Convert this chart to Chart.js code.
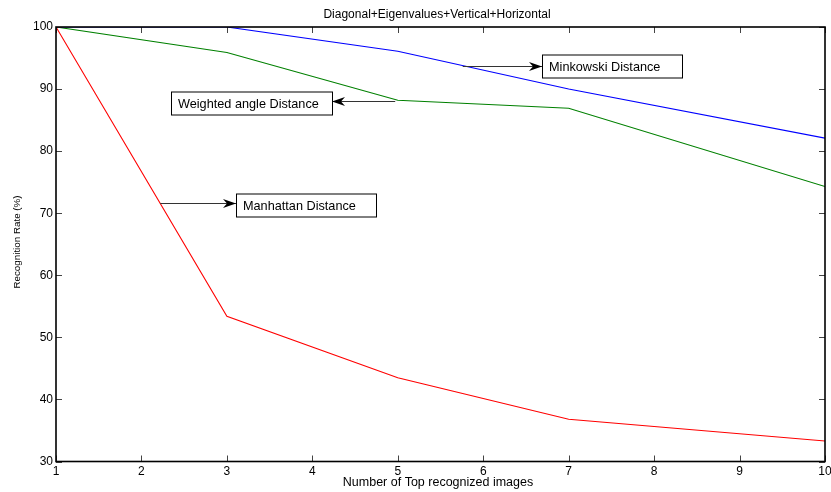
<!DOCTYPE html>
<html>
<head>
<meta charset="utf-8">
<script src="https://cdn.jsdelivr.net/npm/chart.js@4.4.1/dist/chart.umd.min.js"></script>
<style>
  html, body { margin: 0; padding: 0; background: #fff; }
  #wrap { width: 831px; height: 492px; }
</style>
</head>
<body>
<div id="wrap"><canvas id="chart" width="831" height="492"></canvas></div>
<script>
const xValues = [1, 3, 5, 7, 10];
const minkowski = [100, 100, 96.1, 90, 82.1];
const weightedAngle = [100, 95.9, 88.2, 86.9, 74.3];
const manhattan = [100, 53.4, 43.5, 36.8, 33.3];

const chartTitle = 'Diagonal+Eigenvalues+Vertical+Horizontal';
const xTitle = 'Number of Top recognized images';
const yTitle = 'Recognition Rate (%)';

// label, box left x, box centre y, arrow start x, arrow y (data units), box width px, arrow side
const notes = [
  ['Minkowski Distance', 6.69, 93.7, 5.76, 93.7, 140, 'right'],
  ['Weighted angle Distance', 2.346, 87.8, 4.97, 88.1, 161, 'left'],
  ['Manhattan Distance', 3.107, 71.3, 2.22, 71.6, 140, 'right']
];

const FONT = '"Liberation Sans", Arial, sans-serif';

function toPts(ys) {
  return ys.map((y, i) => ({ x: xValues[i], y: y }));
}

const framePlugin = {
  id: 'frame',
  afterDraw(chart) {
    const { ctx, chartArea: a, scales } = chart;
    const xs = scales.x, ys = scales.y;
    ctx.save();
    // inward ticks
    ctx.strokeStyle = '#444';
    ctx.lineWidth = 1;
    ctx.beginPath();
    for (let v = 1; v <= 10; v++) {
      const px = Math.round(xs.getPixelForValue(v)) + 0.5;
      ctx.moveTo(px, a.bottom); ctx.lineTo(px, a.bottom - 6);
      ctx.moveTo(px, a.top); ctx.lineTo(px, a.top + 6);
    }
    for (let v = 30; v <= 100; v += 10) {
      const py = Math.round(ys.getPixelForValue(v)) + 0.5;
      ctx.moveTo(a.left, py); ctx.lineTo(a.left + 6, py);
      ctx.moveTo(a.right, py); ctx.lineTo(a.right - 6, py);
    }
    ctx.stroke();
    ctx.strokeStyle = '#000';
    ctx.lineWidth = 1.6;
    ctx.strokeRect(a.left, a.top, a.right - a.left, a.bottom - a.top);

    // titles
    ctx.fillStyle = '#000';
    ctx.textAlign = 'center';
    ctx.textBaseline = 'middle';
    ctx.font = '12px ' + FONT;
    ctx.fillText(chartTitle, 437, 15);
    ctx.font = '12.5px ' + FONT;
    ctx.fillText(xTitle, 438, 483);
    ctx.save();
    ctx.translate(17, 242);
    ctx.rotate(-Math.PI / 2);
    ctx.font = '9.8px ' + FONT;
    ctx.fillText(yTitle, 0, 0);
    ctx.restore();

    // annotations
    ctx.font = '12.7px ' + FONT;
    notes.forEach(n => {
      const [label, bx, by, ax, ay, w, side] = n;
      const h = 23;
      const cy = Math.round(ys.getPixelForValue(by));
      const left = Math.round(xs.getPixelForValue(bx));
      const sx = xs.getPixelForValue(ax);
      const sy = Math.round(ys.getPixelForValue(ay)) + 0.5;
      const tipX = side === 'right' ? left : left + w;
      ctx.strokeStyle = '#333';
      ctx.lineWidth = 1.2;
      ctx.beginPath();
      ctx.moveTo(sx, sy);
      ctx.lineTo(tipX, sy);
      ctx.stroke();
      const dir = side === 'right' ? 1 : -1;
      ctx.fillStyle = '#000';
      ctx.beginPath();
      ctx.moveTo(tipX, sy);
      ctx.lineTo(tipX - dir * 13, sy - 4.5);
      ctx.lineTo(tipX - dir * 9, sy);
      ctx.lineTo(tipX - dir * 13, sy + 4.5);
      ctx.closePath();
      ctx.fill();
      ctx.fillStyle = '#fff';
      ctx.fillRect(left, cy - h / 2, w, h);
      ctx.strokeStyle = '#000';
      ctx.lineWidth = 1;
      ctx.strokeRect(left + 0.5, cy - h / 2 + 0.5, w, h);
      ctx.fillStyle = '#000';
      ctx.textAlign = 'left';
      ctx.fillText(label, left + 7, cy + 1);
    });
    ctx.restore();
  }
};

new Chart(document.getElementById('chart'), {
  type: 'line',
  data: {
    datasets: [
      { label: 'Minkowski Distance', data: toPts(minkowski), borderColor: '#0000ff' },
      { label: 'Weighted angle Distance', data: toPts(weightedAngle), borderColor: '#008000' },
      { label: 'Manhattan Distance', data: toPts(manhattan), borderColor: '#ff0000' }
    ]
  },
  options: {
    responsive: false,
    animation: false,
    events: [],
    layout: { padding: { left: 0, right: 6, top: 27, bottom: 0 } },
    elements: {
      line: { borderWidth: 1.1, tension: 0, fill: false },
      point: { radius: 0 }
    },
    plugins: { legend: { display: false }, tooltip: { enabled: false } },
    scales: {
      x: {
        type: 'linear', min: 1, max: 10,
        grid: { display: false, drawTicks: false },
        border: { display: false },
        ticks: { stepSize: 1, padding: 3, color: '#000', font: { family: FONT, size: 12 }, maxRotation: 0 },
        afterFit(s) { s.height = 30.5; s.paddingLeft = 0; s.paddingRight = 0; }
      },
      y: {
        min: 30, max: 100,
        grid: { display: false, drawTicks: false },
        border: { display: false },
        ticks: { stepSize: 10, padding: 3, color: '#000', font: { family: FONT, size: 12 } },
        afterFit(s) { s.width = 56; s.paddingTop = 0; s.paddingBottom = 0; }
      }
    }
  },
  plugins: [framePlugin]
});
</script>
</body>
</html>
